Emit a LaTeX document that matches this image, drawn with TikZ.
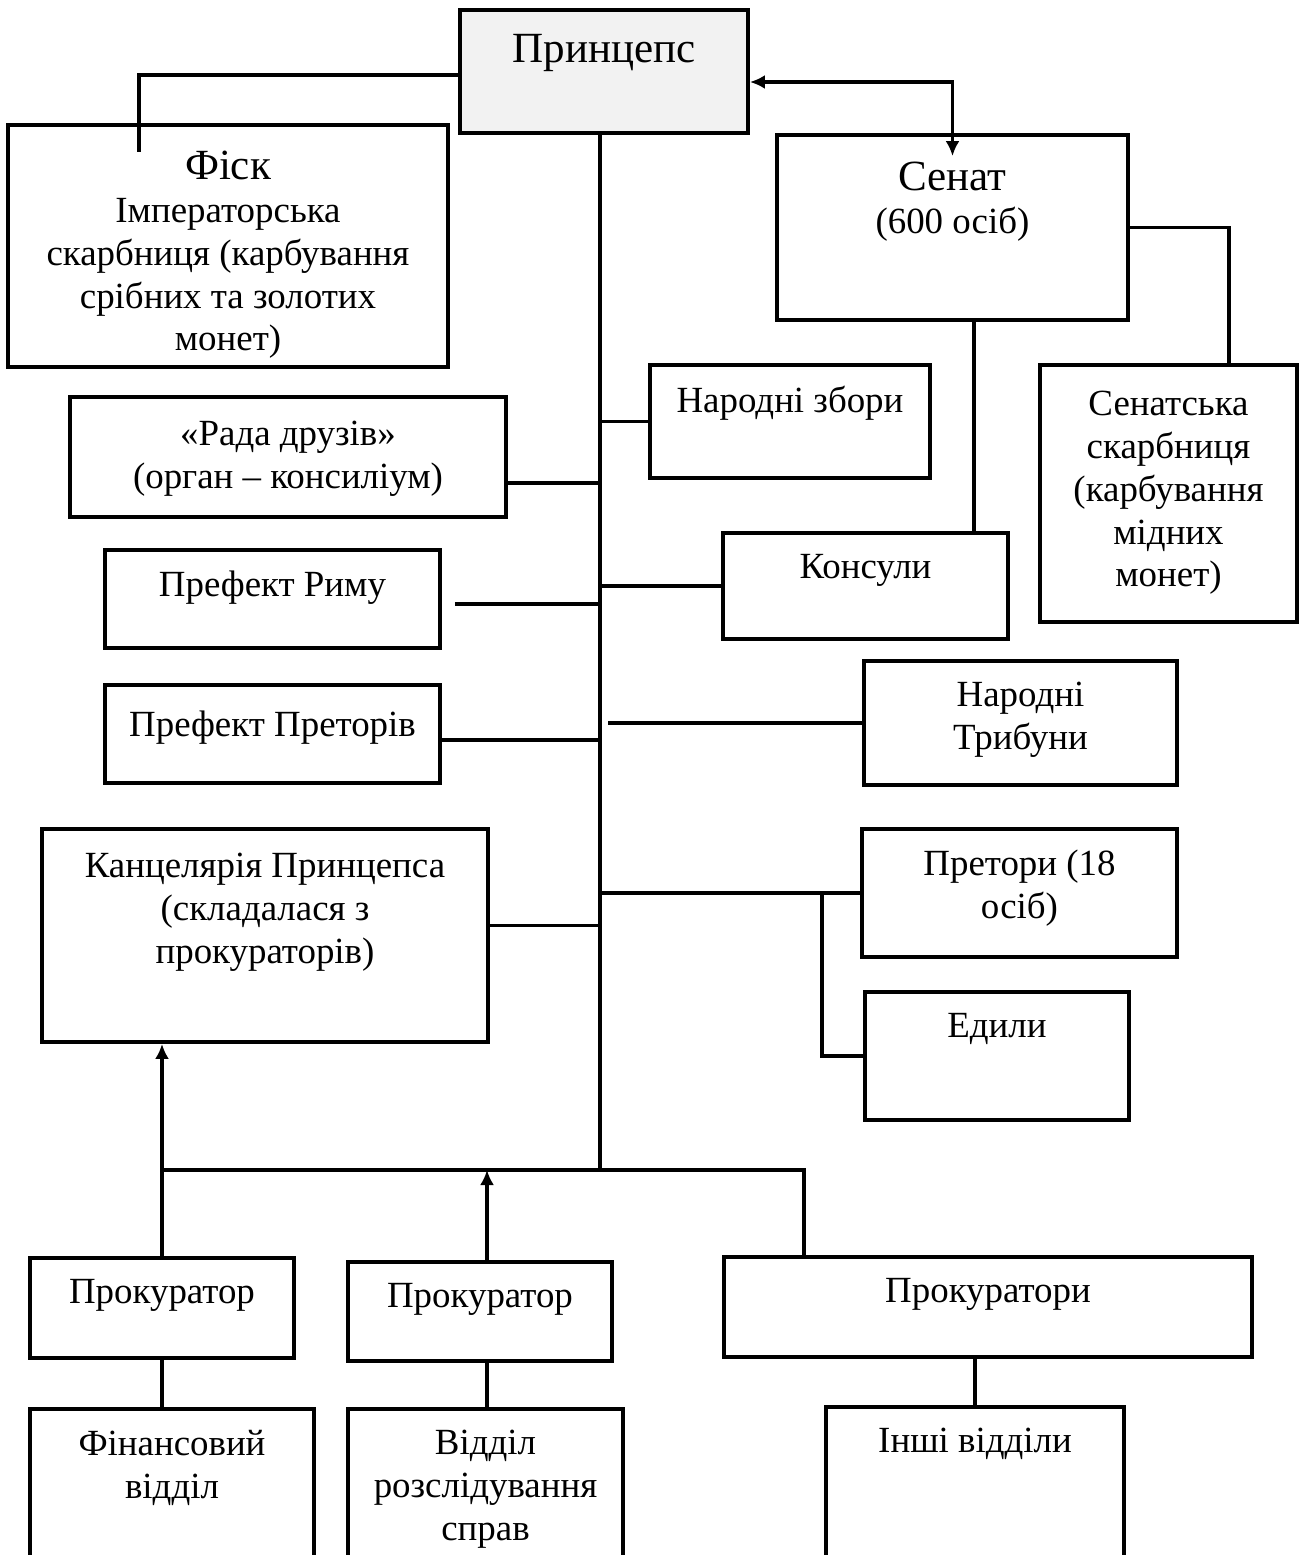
\documentclass[tikz,border=0pt]{standalone}
\usepackage{fontspec}
\setmainfont{Liberation Serif}
\usetikzlibrary{arrows.meta,fit}
\begin{document}
\begin{tikzpicture}[
        x = 0.02cm, y = -0.02cm,
        line width = 2.2pt,
        >={Latex[length = 0.3cm, width = 0.28cm]},
        box/.style = {draw, inner sep = 0pt},
        txt/.style = {anchor = north, yshift = -0.42cm, inner sep = 0pt, align = center,
            font = \fontsize{21pt}{24.4pt}\selectfont},
        big/.style = {font = \fontsize{24.5pt}{28pt}\selectfont}
    ]
    \useasboundingbox (0, 0) rectangle (1300, 1555);
    \clip (0, 0) rectangle (1300, 1555);

    \node[box, fill = black!5, fit = {(460, 10) (748, 133)}, label = {[txt, big, yshift = -0.06cm]north:Принцепс}] (princeps) {};
    \node[box, fit = {(8, 125) (448, 367)},
        label = {[txt, yshift = -0.1cm]north:{{\fontsize{24.5pt}{28pt}\selectfont Фіск}\\Імператорська\\скарбниця (карбування\\срібних та золотих\\монет)}}] (fisk) {};
    \node[box, fit = {(777, 135) (1128, 320)},
        label = {[txt, yshift = -0.12cm]north:{{\fontsize{24.5pt}{28pt}\selectfont Сенат}\\(600 осіб)}}] (senat) {};
    \node[box, fit = {(650, 365) (930, 478)}, label = {[txt]north:Народні збори}] (zbory) {};
    \node[box, fit = {(1040, 365) (1297, 622)},
        label = {[txt, yshift = -0.1cm]north:{Сенатська\\скарбниця\\(карбування\\мідних\\монет)}}] (sskarb) {};
    \node[box, fit = {(70, 397) (506, 517)}, label = {[txt, yshift = -0.06cm]north:{«Рада друзів»\\(орган – консиліум)}}] (rada) {};
    \node[box, fit = {(105, 550) (440, 648)}, label = {[txt]north:Префект Риму}] (rym) {};
    \node[box, fit = {(723, 533) (1008, 639)}, label = {[txt]north:Консули}] (konsuly) {};
    \node[box, fit = {(864, 661) (1177, 785)}, label = {[txt]north:{Народні\\Трибуни}}] (trib) {};
    \node[box, fit = {(105, 685) (440, 783)}, label = {[txt, yshift = -0.1cm]north:Префект Преторів}] (prefpr) {};
    \node[box, fit = {(42, 829) (488, 1042)},
        label = {[txt, yshift = -0.06cm]north:{Канцелярія Принцепса\\(складалася з\\прокураторів)}}] (kanc) {};
    \node[box, fit = {(862, 829) (1177, 957)}, label = {[txt]north:{Претори (18\\осіб)}}] (pretory) {};
    \node[box, fit = {(865, 992) (1129, 1120)}, label = {[txt]north:Едили}] (edyly) {};
    \node[box, fit = {(30, 1258) (294, 1358)}, label = {[txt]north:Прокуратор}] (prok1) {};
    \node[box, fit = {(348, 1262) (612, 1361)}, label = {[txt]north:Прокуратор}] (prok2) {};
    \node[box, fit = {(724, 1257) (1252, 1357)}, label = {[txt]north:Прокуратори}] (prokn) {};
    \node[box, fit = {(30, 1409) (314, 1600)}, label = {[txt]north:{Фінансовий\\відділ}}] (fin) {};
    \node[box, fit = {(348, 1409) (623, 1600)}, label = {[txt]north:{Відділ\\розслідування\\справ}}] (viddil) {};
    \node[box, fit = {(826, 1407) (1124, 1600)}, label = {[txt]north:Інші відділи}] (inshi) {};

    \coordinate (hub) at (600, 1170);
    \coordinate (hub r) at (608, 1170);
    \coordinate (fisk in) at (139, 152);

    \draw ([yshift = -0.07cm]princeps.west) -| (fisk in);
    \draw[<->] ([yshift = -0.21cm]princeps.east) -| ([yshift = -0.46cm]senat.north);
    \draw (senat.east) -| ([xshift = 1.21cm]sskarb.north);
    \draw ([xshift = 0.43cm]senat.south) -- ([xshift = 0.43cm]senat.south |- konsuly.north);

    \draw ([yshift = 0.06cm]princeps.south -| hub) -- (hub);
    \draw ([yshift = -0.52cm]rada.east) -- ([yshift = -0.52cm]rada.east -| hub);
    \draw ([xshift = 0.26cm, yshift = -0.1cm]rym.east) -- ([yshift = -0.1cm]rym.east -| hub);
    \draw ([yshift = -0.12cm]prefpr.east) -- ([yshift = -0.12cm]prefpr.east -| hub);
    \draw ([yshift = 0.2cm]kanc.east) -- ([yshift = 0.2cm]kanc.east -| hub);
    \draw (hub |- zbory.west) -- (zbory.west);
    \draw (hub |- konsuly.west) -- (konsuly.west);
    \draw (hub r |- trib.west) -- (trib.west);
    \draw (hub |- pretory.west) -- (pretory.west);
    \draw ([xshift = -0.76cm]pretory.west) |- (edyly.west);

    \draw (prok1.north |- hub) -- (hub) -| ([xshift = -3.68cm]prokn.north);
    \draw[->] (prok1.north) -- (prok1.north |- kanc.south);
    \draw[->] ([xshift = 0.14cm]prok2.north) -- ([xshift = 0.14cm]prok2.north |- hub);
    \draw (prok1.south) -- (prok1.south |- fin.north);
    \draw ([xshift = 0.14cm]prok2.south) -- ([xshift = 0.14cm]prok2.south |- viddil.north);
    \draw (inshi.north) -- (inshi.north |- prokn.south);
\end{tikzpicture}
\end{document}
